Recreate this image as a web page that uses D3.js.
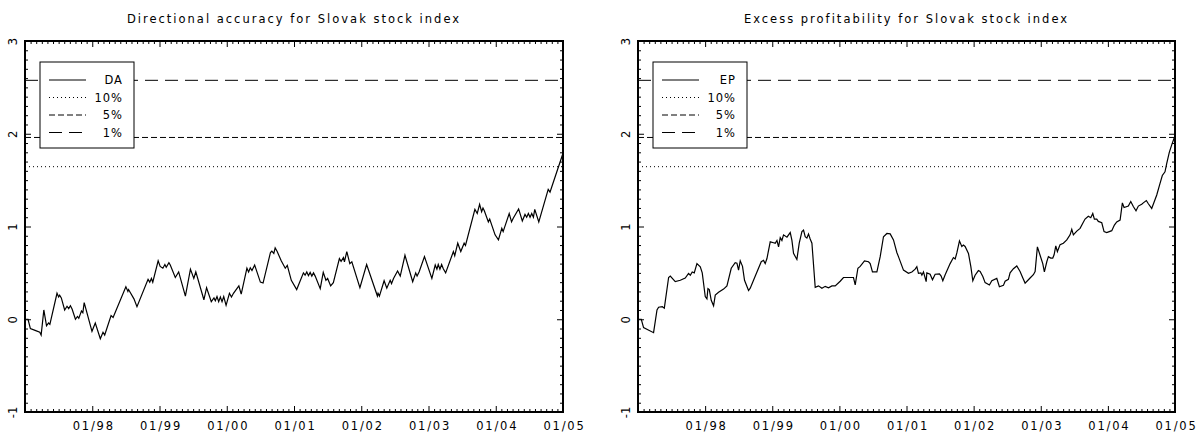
<!DOCTYPE html>
<html>
<head>
<meta charset="utf-8">
<script src="https://cdn.jsdelivr.net/npm/d3@7"></script>
<style>
  body { margin: 0; background: #fff; }
  svg text { font-family: "DejaVu Sans", sans-serif; fill: #000; }
</style>
</head>
<body>
<svg id="chart" width="1202" height="437"></svg>
<script>
// ---- data ----
const titles = ["Directional accuracy for Slovak stock index", "Excess profitability for Slovak stock index"];
const seriesNames = ["DA", "EP"];

const yearTicks = [1998, 1999, 2000, 2001, 2002, 2003, 2004, 2005];
const yearLabels = ["01/98", "01/99", "01/00", "01/01", "01/02", "01/03", "01/04", "01/05"];
const yTicks = [-1, 0, 1, 2, 3];
const yLabels = ["-1", "0", "1", "2", "3"];

// critical values of the test statistic
const critNames = ["10%", "5%", "1%"];
const critValues = [1.645, 1.96, 2.576];

// directional accuracy (time in decimal years)
const daTime = [
  1997.00, 1997.045, 1997.08, 1997.15, 1997.22, 1997.24, 1997.28, 1997.32, 1997.35, 1997.37,
  1997.476, 1997.50, 1997.515, 1997.54, 1997.59, 1997.625, 1997.65, 1997.675, 1997.70, 1997.75,
  1997.78, 1997.80, 1997.84, 1997.86, 1997.88, 1997.996, 1998.045, 1998.12, 1998.16, 1998.185,
  1998.28, 1998.31, 1998.50, 1998.53, 1998.54, 1998.62, 1998.665, 1998.83, 1998.855, 1998.88,
  1998.90, 1998.98, 1999.01, 1999.05, 1999.08, 1999.10, 1999.14, 1999.16, 1999.235, 1999.285,
  1999.385, 1999.46, 1999.51, 1999.54, 1999.66, 1999.70, 1999.77, 1999.81, 1999.83, 1999.855,
  1999.88, 1999.905, 1999.93, 1999.955, 1999.99, 2000.04, 2000.07, 2000.10, 2000.18, 2000.215,
  2000.30, 2000.325, 2000.35, 2000.375, 2000.415, 2000.50, 2000.54, 2000.65, 2000.67, 2000.70,
  2000.72, 2000.75, 2000.81, 2000.87, 2000.90, 2000.96, 2001.04, 2001.14, 2001.165, 2001.19,
  2001.215, 2001.24, 2001.265, 2001.29, 2001.315, 2001.39, 2001.435, 2001.475, 2001.50, 2001.545,
  2001.585, 2001.675, 2001.70, 2001.735, 2001.75, 2001.785, 2001.83, 2001.86, 2001.98, 2002.08,
  2002.24, 2002.25, 2002.27, 2002.34, 2002.38, 2002.43, 2002.45, 2002.48, 2002.54, 2002.58,
  2002.65, 2002.765, 2002.81, 2002.83, 2002.86, 2002.94, 2003.05, 2003.10, 2003.125, 2003.145,
  2003.17, 2003.195, 2003.22, 2003.255, 2003.37, 2003.39, 2003.435, 2003.48, 2003.53, 2003.55,
  2003.69, 2003.725, 2003.76, 2003.79, 2003.81, 2003.83, 2003.89, 2003.91, 2003.99, 2004.04,
  2004.09, 2004.11, 2004.20, 2004.235, 2004.26, 2004.34, 2004.395, 2004.435, 2004.46, 2004.485,
  2004.51, 2004.535, 2004.56, 2004.58, 2004.64, 2004.78, 2004.807, 2004.83, 2005.00
];
const daValue = [
  0.00, 0.00, -0.10, -0.12, -0.14, -0.17, 0.10, -0.07, -0.04, -0.055,
  0.28, 0.24, 0.26, 0.23, 0.10, 0.14, 0.115, 0.145, 0.11, 0.00,
  0.03, 0.01, 0.09, 0.07, 0.18, -0.13, -0.04, -0.21, -0.14, -0.17,
  0.04, 0.02, 0.35, 0.30, 0.32, 0.22, 0.135, 0.43, 0.40, 0.44,
  0.40, 0.63, 0.57, 0.55, 0.59, 0.56, 0.61, 0.585, 0.45, 0.51,
  0.25, 0.54, 0.44, 0.51, 0.21, 0.34, 0.19, 0.23, 0.20, 0.245,
  0.19, 0.24, 0.19, 0.245, 0.15, 0.28, 0.24, 0.28, 0.36, 0.27,
  0.55, 0.51, 0.555, 0.525, 0.585, 0.40, 0.39, 0.72, 0.735, 0.71,
  0.77, 0.73, 0.63, 0.55, 0.58, 0.42, 0.32, 0.50, 0.475, 0.51,
  0.47, 0.505, 0.465, 0.50, 0.465, 0.33, 0.505, 0.42, 0.44, 0.36,
  0.395, 0.655, 0.625, 0.665, 0.62, 0.73, 0.60, 0.62, 0.34, 0.59,
  0.25, 0.28, 0.25, 0.415, 0.335, 0.42, 0.385, 0.44, 0.52, 0.465,
  0.69, 0.405, 0.50, 0.465, 0.51, 0.675, 0.44, 0.585, 0.54, 0.59,
  0.54, 0.59, 0.545, 0.50, 0.73, 0.685, 0.82, 0.73, 0.82, 0.795,
  1.185, 1.14, 1.24, 1.16, 1.20, 1.17, 1.05, 1.08, 0.91, 0.855,
  0.98, 0.945, 1.14, 1.05, 1.09, 1.19, 1.06, 1.13, 1.10, 1.14,
  1.10, 1.14, 1.10, 1.185, 1.05, 1.40, 1.37, 1.42, 1.79
];

// excess profitability
const epTime = [
  1997.009, 1997.049, 1997.083, 1997.232, 1997.283, 1997.307, 1997.362, 1997.392, 1997.456, 1997.481,
  1997.555, 1997.630, 1997.704, 1997.753, 1997.779, 1997.808, 1997.838, 1997.878, 1997.928, 1997.957,
  1998.002, 1998.027, 1998.042, 1998.062, 1998.091, 1998.126, 1998.151, 1998.200, 1998.275, 1998.325,
  1998.389, 1998.448, 1998.474, 1998.498, 1998.523, 1998.557, 1998.587, 1998.647, 1998.672, 1998.721,
  1998.772, 1998.836, 1998.870, 1998.895, 1998.921, 1998.970, 1999.019, 1999.044, 1999.070, 1999.094,
  1999.119, 1999.144, 1999.168, 1999.219, 1999.268, 1999.293, 1999.317, 1999.367, 1999.402, 1999.442,
  1999.466, 1999.491, 1999.516, 1999.540, 1999.565, 1999.591, 1999.640, 1999.689, 1999.740, 1999.789,
  1999.838, 1999.889, 1999.938, 2000.012, 2000.061, 2000.136, 2000.210, 2000.236, 2000.276, 2000.310,
  2000.374, 2000.434, 2000.459, 2000.493, 2000.559, 2000.608, 2000.657, 2000.708, 2000.757, 2000.806,
  2000.856, 2000.880, 2000.955, 2001.029, 2001.080, 2001.129, 2001.154, 2001.178, 2001.214, 2001.229,
  2001.253, 2001.293, 2001.303, 2001.352, 2001.387, 2001.427, 2001.491, 2001.516, 2001.541, 2001.576,
  2001.650, 2001.699, 2001.725, 2001.750, 2001.789, 2001.824, 2001.848, 2001.873, 2001.923, 2001.958,
  2001.988, 2002.022, 2002.071, 2002.097, 2002.137, 2002.171, 2002.235, 2002.271, 2002.345, 2002.384,
  2002.444, 2002.469, 2002.518, 2002.543, 2002.593, 2002.643, 2002.692, 2002.733, 2002.767, 2002.841,
  2002.890, 2002.916, 2002.950, 2002.990, 2003.030, 2003.054, 2003.090, 2003.114, 2003.149, 2003.179,
  2003.199, 2003.224, 2003.248, 2003.288, 2003.337, 2003.388, 2003.437, 2003.462, 2003.486, 2003.537,
  2003.586, 2003.626, 2003.660, 2003.709, 2003.745, 2003.775, 2003.799, 2003.834, 2003.858, 2003.909,
  2003.943, 2003.983, 2004.058, 2004.097, 2004.132, 2004.182, 2004.216, 2004.241, 2004.305, 2004.341,
  2004.379, 2004.419, 2004.454, 2004.504, 2004.528, 2004.573, 2004.603, 2004.653, 2004.728, 2004.777,
  2004.811, 2004.851, 2004.877, 2004.915, 2004.951, 2004.990
];
const epValue = [
  0.00, 0.00, -0.09, -0.145, 0.10, 0.13, 0.135, 0.12, 0.45, 0.465,
  0.405, 0.42, 0.445, 0.495, 0.475, 0.51, 0.50, 0.60, 0.565, 0.50,
  0.245, 0.22, 0.33, 0.32, 0.205, 0.145, 0.26, 0.29, 0.325, 0.36,
  0.55, 0.61, 0.605, 0.53, 0.63, 0.57, 0.42, 0.31, 0.335, 0.42,
  0.51, 0.62, 0.635, 0.60, 0.655, 0.835, 0.825, 0.82, 0.85, 0.78,
  0.88, 0.85, 0.91, 0.885, 0.935, 0.85, 0.71, 0.645, 0.82, 0.945,
  0.96, 0.89, 0.875, 0.92, 0.865, 0.82, 0.345, 0.36, 0.335, 0.355,
  0.34, 0.36, 0.36, 0.41, 0.45, 0.45, 0.45, 0.37, 0.55, 0.57,
  0.63, 0.62, 0.60, 0.51, 0.51, 0.675, 0.89, 0.925, 0.92, 0.855,
  0.72, 0.675, 0.53, 0.495, 0.51, 0.54, 0.567, 0.495, 0.50, 0.475,
  0.51, 0.405, 0.50, 0.485, 0.425, 0.485, 0.49, 0.465, 0.415, 0.48,
  0.60, 0.665, 0.65, 0.715, 0.845, 0.785, 0.80, 0.785, 0.71, 0.57,
  0.415, 0.475, 0.525, 0.515, 0.46, 0.395, 0.37, 0.415, 0.44, 0.35,
  0.365, 0.41, 0.43, 0.50, 0.545, 0.575, 0.515, 0.445, 0.39, 0.445,
  0.48, 0.515, 0.78, 0.69, 0.60, 0.51, 0.62, 0.675, 0.66, 0.66,
  0.695, 0.79, 0.73, 0.805, 0.82, 0.855, 0.91, 0.97, 0.91, 0.95,
  0.98, 1.035, 1.08, 1.11, 1.095, 1.14, 1.08, 1.08, 1.055, 1.04,
  0.945, 0.935, 0.955, 1.015, 1.05, 1.07, 1.255, 1.205, 1.22, 1.27,
  1.215, 1.17, 1.22, 1.24, 1.255, 1.28, 1.245, 1.195, 1.34, 1.465,
  1.55, 1.59, 1.68, 1.80, 1.88, 1.96
];

// ---- layout ----
const plotTop = 41, plotBottom = 412;
const panels = [
  { left: 25, right: 563, title: titles[0], name: seriesNames[0], time: daTime, value: daValue },
  { left: 638, right: 1175, title: titles[1], name: seriesNames[1], time: epTime, value: epValue }
];
const critDash = ["1,3", "6,3", "13,7"];

const svg = d3.select("#chart");
svg.append("rect").attr("width", 1202).attr("height", 437).attr("fill", "#fff");

// monthly minor ticks
const months = d3.range(0, 97).map(i => 1997 + i / 12).filter((d, i) => i % 12 !== 0);
const tenths = d3.range(-10, 31).map(i => i / 10).filter((d, i) => i % 10 !== 0);

function drawPanel(p) {
  const g = svg.append("g");
  const x = d3.scaleLinear().domain([1997, 2005]).range([p.left, p.right]);
  const y = d3.scaleLinear().domain([-1, 3]).range([plotBottom, plotTop]);

  // title
  g.append("text")
    .attr("x", (p.left + p.right) / 2)
    .attr("y", 23)
    .attr("text-anchor", "middle")
    .style("font-size", "11.5px")
    .style("letter-spacing", "2px")
    .text(p.title);

  // critical value lines
  critValues.forEach((c, i) => {
    g.append("line")
      .attr("x1", x(1997)).attr("x2", x(2005))
      .attr("y1", y(c)).attr("y2", y(c))
      .attr("stroke", "#000").attr("stroke-width", 1)
      .attr("stroke-dasharray", critDash[i]);
  });

  // the series
  const line = d3.line().x(d => x(d[0])).y(d => y(d[1]));
  g.append("path")
    .datum(d3.zip(p.time, p.value))
    .attr("fill", "none")
    .attr("stroke", "#000")
    .attr("stroke-width", 1.2)
    .attr("d", line);

  // x axes (ticks point inward)
  const xMinorB = d3.axisBottom(x).tickValues(months).tickSize(-3).tickFormat("");
  const xMajorB = d3.axisBottom(x).tickValues(yearTicks).tickSize(-6).tickPadding(10)
    .tickFormat((d, i) => yearLabels[i]);
  const xMinorT = d3.axisTop(x).tickValues(months).tickSize(-3).tickFormat("");
  const xMajorT = d3.axisTop(x).tickValues(yearTicks).tickSize(-6).tickFormat("");

  g.append("g").attr("transform", `translate(0,${plotBottom})`).call(xMinorB);
  const xb = g.append("g").attr("transform", `translate(0,${plotBottom})`).call(xMajorB);
  xb.selectAll("text").style("font-size", "11.5px").style("letter-spacing", "1.8px").attr("dx", "1px");
  g.append("g").attr("transform", `translate(0,${plotTop})`).call(xMinorT);
  g.append("g").attr("transform", `translate(0,${plotTop})`).call(xMajorT);

  // y axes
  g.append("g").attr("transform", `translate(${p.left},0)`)
    .call(d3.axisLeft(y).tickValues(tenths).tickSize(-3).tickFormat(""));
  const yl = g.append("g").attr("transform", `translate(${p.left},0)`)
    .call(d3.axisLeft(y).tickValues(yTicks).tickSize(-6).tickFormat((d, i) => yLabels[i]));
  yl.selectAll("text")
    .attr("x", null).attr("dy", null)
    .attr("text-anchor", "middle")
    .attr("transform", "translate(-8,0) rotate(-90)")
    .style("font-size", "11.5px");
  g.append("g").attr("transform", `translate(${p.right},0)`)
    .call(d3.axisRight(y).tickValues(tenths).tickSize(-3).tickFormat(""));
  g.append("g").attr("transform", `translate(${p.right},0)`)
    .call(d3.axisRight(y).tickValues(yTicks).tickSize(-6).tickFormat(""));

  g.selectAll(".domain").remove();

  // frame
  g.append("rect")
    .attr("x", p.left).attr("y", plotTop)
    .attr("width", p.right - p.left).attr("height", plotBottom - plotTop)
    .attr("fill", "none").attr("stroke", "#000").attr("stroke-width", 2);

  // legend
  const lx = p.left + 15, ly = 62;
  const leg = g.append("g").attr("transform", `translate(${lx},${ly})`);
  leg.append("rect").attr("width", 94).attr("height", 86)
    .attr("fill", "#fff").attr("stroke", "#000").attr("stroke-width", 1);
  const legNames = [p.name].concat(critNames);
  const legDash = [null].concat(critDash);
  legNames.forEach((n, i) => {
    const ry = 18 + i * 17.5;
    leg.append("line")
      .attr("x1", 9).attr("x2", 46).attr("y1", ry).attr("y2", ry)
      .attr("stroke", "#000").attr("stroke-width", 1)
      .attr("stroke-dasharray", legDash[i]);
    leg.append("text")
      .attr("x", 83).attr("y", ry).attr("dy", "0.35em")
      .attr("text-anchor", "end")
      .style("font-size", "11.5px")
      .style("letter-spacing", "1px")
      .text(n);
  });
}

panels.forEach(drawPanel);
</script>
</body>
</html>
